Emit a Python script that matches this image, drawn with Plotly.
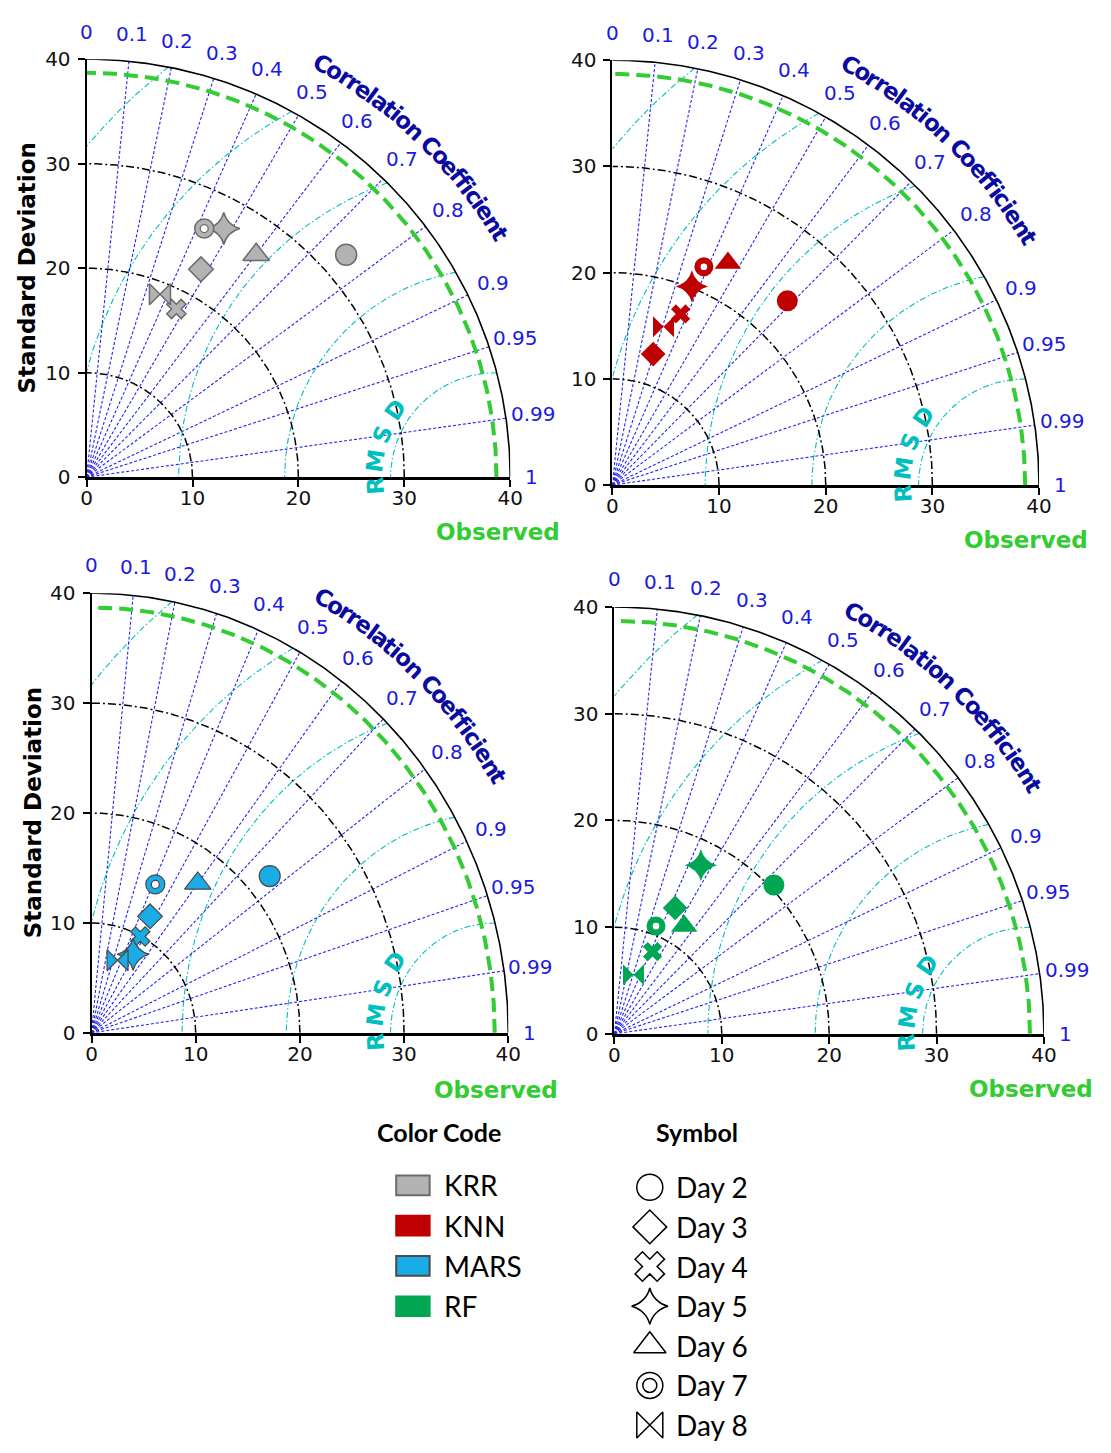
import numpy as np
import plotly.graph_objects as go

W, H = 1111, 1453

# ---------------- data ----------------
models = ["KRR", "KNN", "MARS", "RF"]
days = ["Day 2", "Day 3", "Day 4", "Day 5", "Day 6", "Day 7", "Day 8"]

std_krr = [32.46, 22.64, 18.19, 27.10, 26.64, 26.26, 18.82]
corr_krr = [0.755, 0.477, 0.466, 0.478, 0.601, 0.423, 0.368]
std_knn = [23.87, 12.91, 17.33, 20.13, 23.54, 22.27, 15.65]
corr_knn = [0.687, 0.296, 0.369, 0.370, 0.460, 0.385, 0.306]
std_mars = [22.27, 12.00, 9.94, 8.19, 17.00, 14.83, 7.06]
corr_mars = [0.768, 0.468, 0.471, 0.488, 0.600, 0.413, 0.354]
std_rf = [20.37, 13.08, 8.48, 17.74, 12.01, 10.82, 5.81]
corr_rf = [0.729, 0.432, 0.419, 0.454, 0.541, 0.358, 0.305]

obs_std = 38.7
rmax = 40
std_ticks = [0, 10, 20, 30, 40]
std_grid = [10, 20, 30]
rmsd_grid = [10, 20, 30, 40, 50]
corr_lines = [0.1, 0.2, 0.3, 0.4, 0.5, 0.6, 0.7, 0.8, 0.9, 0.95, 0.99]
corr_labels = [0, 0.1, 0.2, 0.3, 0.4, 0.5, 0.6, 0.7, 0.8, 0.9, 0.95, 0.99, 1]

model_std = [std_krr, std_knn, std_mars, std_rf]
model_corr = [corr_krr, corr_knn, corr_mars, corr_rf]

# ---------------- styles ----------------
fill_colors = ["#b3b3b3", "#c00000", "#1aace6", "#00a651"]
edge_colors = ["#6b6b6b", "#c00000", "#4a4a4a", "#00a651"]
edge_widths = [1.5, 0, 1.2, 0]
day_symbols = ["circle", "diamond", "x", "star-diamond", "triangle-up", "circle", "bowtie"]
day_sizes = [21, 19, 17, 23, 23, 19, 21]
legend_symbols = ["circle-open", "diamond-open", "x-open", "star-diamond-open",
                  "triangle-up-open", "circle-open", "bowtie-open"]

# panel boxes in pixels: (x at 0, x at 40, y at 0, y at 40)
panels = [(82, 513, 473, 48), (617, 1051, 481, 49), (87, 511, 1038, 591), (619, 1056, 1039, 605)]
show_ytitle = [True, False, True, False]

DASHDOT = "8px,3px,2px,3px"
THIN_DASHDOT = "6px,2.5px,1.5px,2.5px"
FONT = "DejaVu Sans"

fig = go.Figure()
layout = dict(width=W, height=H, margin=dict(l=0, r=0, t=0, b=0),
              paper_bgcolor="white", plot_bgcolor="rgba(0,0,0,0)",
              showlegend=False)
annotations = []
shapes = []


def line(xs, ys, xa, ya, color, width, dash="solid"):
    fig.add_trace(go.Scatter(x=xs, y=ys, mode="lines", xaxis=xa, yaxis=ya,
                             line=dict(color=color, width=width, dash=dash),
                             hoverinfo="skip", showlegend=False))


def to_paper(box, x, y):
    x0, x1, y0, y1 = box
    px = x0 + x / rmax * (x1 - x0)
    py = y0 + y / rmax * (y1 - y0)
    return px / W, 1 - py / H


cc_text = "Correlation Coefficient"
cw = {"C": .73, "o": .69, "r": .49, "e": .68, "l": .34, "a": .68, "t": .48, "i": .34,
      "n": .71, " ": .35, "f": .44, "c": .59}

for p, box in enumerate(panels):
    x0, x1, y0, y1 = box
    sfx = "" if p == 0 else str(p + 1)
    xa, ya = "x" + sfx, "y" + sfx
    axis_common = dict(range=[0, rmax], tickvals=std_ticks, ticktext=[str(v) for v in std_ticks],
                       ticks="outside", ticklen=7, tickwidth=1.5, tickcolor="black",
                       showline=True, linecolor="black", showgrid=False, zeroline=False,
                       tickfont=dict(family=FONT, size=20, color="#111111"),
                       fixedrange=True)
    layout["xaxis" + sfx] = dict(axis_common, domain=[x0 / W, x1 / W], anchor=ya, linewidth=3,
                                 ticklabelstandoff=-6)
    layout["yaxis" + sfx] = dict(axis_common, domain=[1 - y0 / H, 1 - y1 / H], anchor=xa, linewidth=2,
                                 ticklabelstandoff=3)

    th = np.linspace(0, np.pi / 2, 300)
    # RMSD arcs (cyan)
    for R in rmsd_grid:
        hi = np.pi if obs_std / R >= 1 else np.arccos(-obs_std / R)
        v = (rmax ** 2 - obs_std ** 2 - R ** 2) / (2 * obs_std * R)
        lo = np.arccos(np.clip(v, -1, 1))
        t = np.linspace(lo, hi, 400)
        line(obs_std + R * np.cos(t), R * np.sin(t), xa, ya, "#00bfbf", 1.1, THIN_DASHDOT)
    # correlation rays
    for c in corr_lines:
        s = np.sqrt(1 - c ** 2)
        line([0, rmax * c], [0, rmax * s], xa, ya, "#2424f0", 1.1, "3px,2px")
    # std arcs
    for r in std_grid:
        line(r * np.cos(th), r * np.sin(th), xa, ya, "black", 1.5, DASHDOT)
    # observed arc
    line(obs_std * np.cos(th), obs_std * np.sin(th), xa, ya, "#33cc33", 4, "14px,7px")
    # outer arc
    line(rmax * np.cos(th), rmax * np.sin(th), xa, ya, "black", 1.6)

    # markers
    std = np.array(model_std[p])
    cor = np.array(model_corr[p])
    mx = std * cor
    my = std * np.sqrt(1 - cor ** 2)
    for d in range(len(days)):
        fig.add_trace(go.Scatter(
            x=[mx[d]], y=[my[d]], mode="markers", xaxis=xa, yaxis=ya, cliponaxis=False,
            marker=dict(symbol=day_symbols[d], size=day_sizes[d], color=fill_colors[p],
                        line=dict(color=edge_colors[p], width=edge_widths[p])),
            hoverinfo="skip", showlegend=False))
        if days[d] == "Day 7":
            fig.add_trace(go.Scatter(
                x=[mx[d]], y=[my[d]], mode="markers", xaxis=xa, yaxis=ya, cliponaxis=False,
                marker=dict(symbol="circle", size=8, color="white",
                            line=dict(color=edge_colors[p] if edge_widths[p] > 0 else fill_colors[p],
                                      width=1.3)),
                hoverinfo="skip", showlegend=False))

    # correlation tick labels
    for c in corr_labels:
        a = np.arccos(c)
        lbl = "0" if c == 0 else ("1" if c == 1 else f"{c:g}")
        rr = 42.6 if c != 1 else 42.0
        px, py = to_paper(box, rr * np.cos(a), rr * np.sin(a))
        annotations.append(dict(text=lbl, x=px, y=py, xref="paper", yref="paper",
                                showarrow=False, xanchor="center", yanchor="middle",
                                font=dict(family=FONT, size=20, color="#1a1ae0")))

    # curved "Correlation Coefficient"
    widths = [cw[ch] for ch in cc_text]
    centers = np.cumsum(widths) - np.array(widths) / 2
    frac = (centers - centers[0]) / (centers[-1] - centers[0])
    ang = 60.6 - frac * (60.6 - 30.8)
    for ch, phi in zip(cc_text, ang):
        if ch == " ":
            continue
        ph = np.radians(phi)
        px, py = to_paper(box, 45.4 * np.cos(ph), 45.4 * np.sin(ph))
        annotations.append(dict(text=ch, x=px, y=py, xref="paper", yref="paper",
                                showarrow=False, xanchor="center", yanchor="middle",
                                textangle=90 - phi,
                                font=dict(family=FONT, size=23, color="#0a0aa0", weight="bold")))

    # RMSD letters
    for ch, phi in zip("RMSD", [184, 172, 159, 146]):
        ph = np.radians(phi)
        px, py = to_paper(box, obs_std + 11.5 * np.cos(ph), 11.5 * np.sin(ph))
        annotations.append(dict(text=ch, x=px, y=py, xref="paper", yref="paper",
                                showarrow=False, xanchor="center", yanchor="middle",
                                textangle=90 - phi,
                                font=dict(family=FONT, size=23, color="#00bfbf", weight="bold")))

    # Observed label
    px, py = to_paper(box, 38.8, -5.2)
    annotations.append(dict(text="Observed", x=px, y=py, xref="paper", yref="paper", showarrow=False,
                            xanchor="center", yanchor="middle",
                            font=dict(family=FONT, size=23, color="#33cc33", weight="bold")))
    if show_ytitle[p]:
        px, py = to_paper(box, -5.6, 20)
        annotations.append(dict(text="Standard Deviation", x=px, y=py, xref="paper", yref="paper",
                                showarrow=False, textangle=-90, xanchor="center", yanchor="middle",
                                font=dict(family=FONT, size=23, color="black", weight="bold")))

# ---------------- legend (helper axis in pixel units) ----------------
layout["xaxis5"] = dict(domain=[0, 1], range=[0, W], visible=False, fixedrange=True, anchor="y5")
layout["yaxis5"] = dict(domain=[0, 1], range=[H, 0], visible=False, fixedrange=True, anchor="x5")
LFONT = "Lato"
annotations.append(dict(text="Color Code", x=441, y=1139, xref="x5", yref="y5", showarrow=False,
                        font=dict(family=LFONT, size=25, color="black", weight="bold")))
annotations.append(dict(text="Symbol", x=703, y=1139, xref="x5", yref="y5", showarrow=False,
                        font=dict(family=LFONT, size=25, color="black", weight="bold")))
for i, m in enumerate(models):
    yc = 1193 + i * 41
    shapes.append(dict(type="rect", xref="x5", yref="y5", x0=397, x1=431, y0=yc - 10, y1=yc + 10,
                       fillcolor=fill_colors[i],
                       line=dict(color=edge_colors[i] if edge_widths[i] > 0 else fill_colors[i], width=2)))
    annotations.append(dict(text=m, x=444, y=yc, xref="x5", yref="y5", showarrow=False,
                            xanchor="left", yanchor="middle",
                            font=dict(family=LFONT, size=28, color="black")))
for d, dname in enumerate(days):
    yc = 1195 + d * 40.3
    fig.add_trace(go.Scatter(x=[655], y=[yc], mode="markers", xaxis="x5", yaxis="y5", cliponaxis=False,
                             marker=dict(symbol=legend_symbols[d], size=26 if d != 4 else 28,
                                         color="black", line=dict(color="black", width=1.5)),
                             hoverinfo="skip", showlegend=False))
    if dname == "Day 7":
        fig.add_trace(go.Scatter(x=[655], y=[yc], mode="markers", xaxis="x5", yaxis="y5",
                                 cliponaxis=False,
                                 marker=dict(symbol="circle-open", size=14, color="black",
                                             line=dict(color="black", width=1.5)),
                                 hoverinfo="skip", showlegend=False))
    annotations.append(dict(text=dname, x=680, y=yc, xref="x5", yref="y5", showarrow=False,
                            xanchor="left", yanchor="middle",
                            font=dict(family=LFONT, size=28, color="black")))

layout["annotations"] = annotations
layout["shapes"] = shapes
fig.update_layout(**layout)
fig.write_html("out.html")
